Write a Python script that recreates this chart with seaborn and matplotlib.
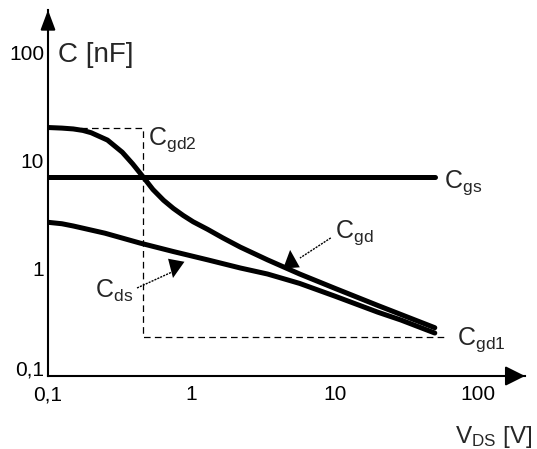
import matplotlib
matplotlib.use('Agg')
import matplotlib.pyplot as plt
import seaborn as sns

# values: V_DS [V] and C [nF]
v_gd = [0.1, 0.125, 0.15, 0.175, 0.2, 0.26, 0.33, 0.39, 0.46, 0.54, 0.64, 0.75, 0.88, 1.03,
        1.3, 1.66, 2.2, 3.4, 5.7, 10, 20, 50]
c_gd = [20.0, 19.75, 19.4, 18.8, 17.9, 15.3, 11.8, 9.2, 7.0, 5.33, 4.24, 3.56, 3.06, 2.68,
        2.28, 1.9, 1.56, 1.19, 0.88, 0.65, 0.45, 0.28]

v_ds = [0.1, 0.125, 0.15, 0.25, 0.44, 0.75, 1.3, 2.2, 3.4, 5.7, 10, 20, 29, 50]
c_ds = [2.65, 2.57, 2.45, 2.1, 1.7, 1.42, 1.19, 1.0, 0.88, 0.72, 0.55, 0.39, 0.33, 0.25]

v_gs = [0.1, 50]
c_gs = [7.0, 7.0]

# dashed guide: Cgd2 level, corner voltage, Cgd1 level
v_box = [0.1, 0.46, 0.46, 60]
c_box = [20, 20, 0.23, 0.23]

ticks = [0.1, 1, 10, 100]
tick_labels = ['0,1', '1', '10', '100']

sns.set_style('white')
plt.rcParams['font.family'] = ['Liberation Sans', 'DejaVu Sans']
plt.rcParams['mathtext.fontset'] = 'custom'
plt.rcParams['mathtext.rm'] = 'Liberation Sans'
plt.rcParams['mathtext.it'] = 'Liberation Sans'
plt.rcParams['mathtext.default'] = 'rm'

fig = plt.figure(figsize=(5.37, 4.49), dpi=100)
ax = fig.add_axes([48 / 537, 73 / 449, 477 / 537, 366 / 449])
ax.set_xscale('log')
ax.set_yscale('log')

sns.lineplot(x=v_gs, y=c_gs, ax=ax, color='k', lw=3.6, estimator=None, sort=False)
sns.lineplot(x=v_gd, y=c_gd, ax=ax, color='k', lw=3.6, estimator=None, sort=False)
sns.lineplot(x=v_ds, y=c_ds, ax=ax, color='k', lw=3.6, estimator=None, sort=False)
ax.plot(v_box, c_box, color='k', lw=0.9, ls=(0, (5.3, 3.4)))

ax.set_xlim(0.1, 213)
ax.set_ylim(0.1, 245)

sns.despine(ax=ax)
for s in ['left', 'bottom']:
    ax.spines[s].set_linewidth(1.5)
    ax.spines[s].set_color('k')

ax.set_xticks(ticks, tick_labels)
ax.set_yticks(ticks, tick_labels)
ax.minorticks_off()
ax.tick_params(axis='both', direction='out', length=2.2, width=1, color='k',
               labelsize=15, labelcolor='k')
ax.tick_params(axis='x', pad=4.5)
ax.tick_params(axis='y', pad=0.5)
ax.get_yticklabels()[0].set_va('baseline')

# axis arrowheads
ax.annotate('', xy=(1, 0), xytext=(0.97, 0), xycoords='axes fraction',
            arrowprops=dict(arrowstyle='-|>,head_length=1.2,head_width=0.6',
                            color='k', lw=1.5, shrinkA=0, shrinkB=0, mutation_scale=10),
            annotation_clip=False)
ax.annotate('', xy=(0, 1), xytext=(0, 0.97), xycoords='axes fraction',
            arrowprops=dict(arrowstyle='-|>,head_length=1.2,head_width=0.45',
                            color='k', lw=1.5, shrinkA=0, shrinkB=0, mutation_scale=10),
            annotation_clip=False)

# axis titles
ax.text(0.117, 80.8, 'C [nF]', fontsize=20, ha='left', va='baseline')
ax.text(69, 0.024, r'V$_{\mathrm{DS}}$ [V]', fontsize=17.5, ha='left', va='baseline',
        clip_on=False)

# curve labels
lab = dict(fontsize=18, ha='left', va='baseline')
ax.text(57.8, 5.48, r'C$_{\mathrm{gs}}$', **lab)
ax.text(0.5, 13.9, r'C$_{\mathrm{gd2}}$', **lab)
ax.text(71.3, 0.193, r'C$_{\mathrm{gd1}}$', **lab, clip_on=False)
ax.text(10.1, 1.9, r'C$_{\mathrm{gd}}$', **lab)
ax.text(0.213, 0.527, r'C$_{\mathrm{ds}}$', **lab)

# pointer lines and heads for Cgd and Cds
ax.plot([9.4, 5.73], [1.9, 1.237], color='k', lw=1, ls=(0, (1.5, 0.8)))
ax.plot([0.418, 0.733], [0.653, 0.918], color='k', lw=1, ls=(0, (1.5, 0.8)))
head = dict(arrowstyle='-|>,head_length=1.3,head_width=0.6', color='k', lw=0,
            shrinkA=0, shrinkB=0, mutation_scale=10)
ax.annotate('', xy=(4.89, 1.47), xytext=(5.0, 1.0), arrowprops=head)
ax.annotate('', xy=(0.745, 0.808), xytext=(0.788, 1.211), arrowprops=head)

fig.savefig('out.png', dpi=100)
